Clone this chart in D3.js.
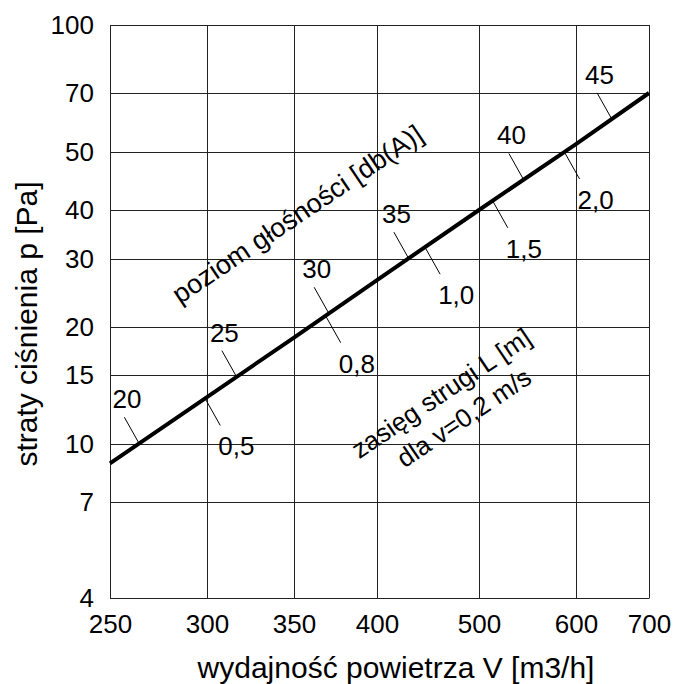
<!DOCTYPE html>
<html>
<head>
<meta charset="utf-8">
<script src="https://cdn.jsdelivr.net/npm/d3@7"></script>
<style>
body { margin: 0; background: #fff; }
text { font-family: Arial, "Liberation Sans", sans-serif; fill: #000; }
</style>
</head>
<body>
<div class="chart"></div>
<script>
// values
const flowTicks = [250, 300, 350, 400, 500, 600, 700];
const pressureTicks = [4, 7, 10, 15, 20, 30, 40, 50, 70, 100];

// pressure loss curve (V -> p)
const lineFlow = [250, 300, 350, 400, 500, 600, 700];
const linePressure = [9.0, 13.4, 18.9, 26.9, 40, 52.7, 70];

// noise level marks above the curve
const noiseLabels = ["20", "25", "30", "35", "40", "45"];
const noiseFlow = [265, 317, 371, 431, 546, 649];

// throw range marks below the curve
const rangeLabels = ["0,5", "0,8", "1,0", "1,5", "2,0"];
const rangeFlow = [299, 369, 447, 514, 588];

// the printed grid is not evenly spaced, so the scales are piecewise
const xStops = [110, 207, 294, 377, 479, 576, 649];
const yStops = [598, 502, 444, 375, 327, 259, 210, 152, 93, 25];

const W = 690, H = 684;

const svg = d3.select(".chart").append("svg")
    .attr("width", W)
    .attr("height", H);

const x = d3.scaleLinear().domain(flowTicks).range(xStops);
const y = d3.scaleLinear().domain(pressureTicks).range(yStops);

const plotW = x(700) - x(250),
    plotH = y(4) - y(100);

const xAxis = d3.axisBottom(x)
    .tickValues(flowTicks)
    .tickFormat(d3.format("d"))
    .tickSizeInner(-plotH)
    .tickSizeOuter(0)
    .tickPadding(17);

const yAxis = d3.axisLeft(y)
    .tickValues(pressureTicks)
    .tickFormat(d3.format("d"))
    .tickSizeInner(-plotW)
    .tickSizeOuter(0)
    .tickPadding(16);

svg.append("g")
    .attr("class", "axis x-axis")
    .attr("transform", `translate(0, ${y(4)})`)
    .call(xAxis);

svg.append("g")
    .attr("class", "axis y-axis")
    .attr("transform", `translate(${x(250)}, 0)`)
    .call(yAxis);

svg.selectAll(".axis")
    .attr("font-size", 26)
    .attr("font-family", null);
svg.selectAll(".axis line, .axis path").attr("stroke", "#222");
svg.selectAll(".axis text").attr("fill", "#000");

// main curve
const line = d3.line()
    .x(d => x(d[0]))
    .y(d => y(d[1]));

svg.append("path")
    .datum(d3.zip(lineFlow, linePressure))
    .attr("fill", "none")
    .attr("stroke", "#000")
    .attr("stroke-width", 4)
    .attr("d", line);

// pixel height of the curve at a pixel x, used to sit the marks on it
const curveY = d3.scaleLinear()
    .domain(lineFlow.map(x))
    .range(linePressure.map(y));

const dir = [0.49, 0.872];

function onCurve(v) {
    const px = x(v);
    return [px, curveY(px)];
}

const noise = svg.append("g").attr("class", "noise");
noiseFlow.forEach((v, i) => {
    const [px, py] = onCurve(v);
    const sx = px - 30 * dir[0], sy = py - 30 * dir[1];
    noise.append("line")
        .attr("x1", sx).attr("y1", sy)
        .attr("x2", px).attr("y2", py)
        .attr("stroke", "#000")
        .attr("stroke-width", 1);
    noise.append("text")
        .attr("x", sx + 2.5)
        .attr("y", sy - 9)
        .attr("text-anchor", "middle")
        .attr("font-size", 26)
        .text(noiseLabels[i]);
});

const range = svg.append("g").attr("class", "range");
rangeFlow.forEach((v, i) => {
    const [px, py] = onCurve(v);
    const ex = px + 31 * dir[0], ey = py + 31 * dir[1];
    range.append("line")
        .attr("x1", px).attr("y1", py)
        .attr("x2", ex).attr("y2", ey)
        .attr("stroke", "#000")
        .attr("stroke-width", 1);
    range.append("text")
        .attr("x", ex - 2)
        .attr("y", ey + 30)
        .attr("font-size", 26)
        .text(rangeLabels[i]);
});

// rotated captions
svg.append("text")
    .attr("transform", `translate(${x(352)}, ${y(39.2)}) rotate(-34)`)
    .attr("text-anchor", "middle")
    .attr("dy", "0.35em")
    .attr("font-size", 27)
    .text("poziom głośności [db(A)]");

const cap = svg.append("g")
    .attr("transform", `translate(${x(472)}, ${y(12.7)}) rotate(-34)`);
cap.append("text")
    .attr("y", -16.5)
    .attr("dy", "0.35em")
    .attr("text-anchor", "middle")
    .attr("font-size", 26)
    .text("zasięg strugi L [m]");
cap.append("text")
    .attr("x", 5)
    .attr("y", 16.5)
    .attr("dy", "0.35em")
    .attr("text-anchor", "middle")
    .attr("font-size", 26)
    .text("dla v=0,2 m/s");

// axis titles
svg.append("text")
    .attr("x", 396)
    .attr("y", 678)
    .attr("text-anchor", "middle")
    .attr("font-size", 30)
    .text("wydajność powietrza V [m3/h]");

svg.append("text")
    .attr("transform", "translate(37, 324) rotate(-90)")
    .attr("text-anchor", "middle")
    .attr("font-size", 30)
    .text("straty ciśnienia p [Pa]");
</script>
</body>
</html>
